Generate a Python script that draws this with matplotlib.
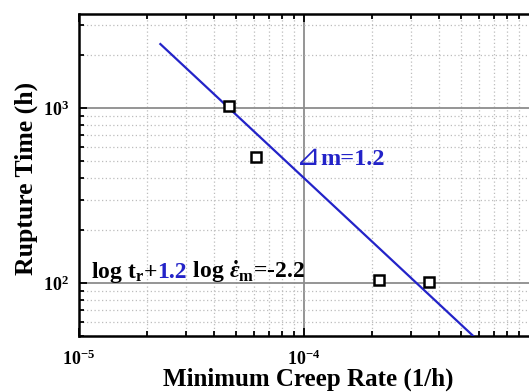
import matplotlib
matplotlib.use("Agg")
import matplotlib.pyplot as plt
import matplotlib.transforms as mtransforms
import numpy as np

# measured creep data: minimum creep rate (1/h) and rupture time (h)
creep_rate = [4.65e-5, 6.1e-5, 2.15e-4, 3.6e-4]
rupture_time = [1030, 522, 104, 101]

# Monkman-Grant fit: log t_r + m log e_m = C
m_exp = 1.2
c_const = -2.2
fit_rate = [2.3e-5, 6.0e-4]

x_ticks = [1e-5, 1e-4]
x_ticklabels = [r"$\mathbf{10^{-5}}$", r"$\mathbf{10^{-4}}$"]
y_ticks = [1e2, 1e3]
y_ticklabels = [r"$\mathbf{10^{2}}$", r"$\mathbf{10^{3}}$"]

plt.rcParams['font.family'] = ['Liberation Serif', 'DejaVu Sans']
plt.rcParams['font.weight'] = 'bold'
plt.rcParams['mathtext.fontset'] = 'custom'
plt.rcParams['mathtext.rm'] = 'Liberation Serif:bold'
plt.rcParams['mathtext.it'] = 'Liberation Serif:italic:bold'
plt.rcParams['mathtext.bf'] = 'Liberation Serif:bold'

blue = '#2323c8'

fig = plt.figure(figsize=(5.29, 3.92), dpi=100)
ax = fig.add_axes([0.1493, 0.1436, 0.8507, 0.8207])
ax.set_xscale('log')
ax.set_yscale('log')
ax.set_xlim(1e-5, 1e-3)
ax.set_ylim(50, 3450)

ax.grid(True, which='major', color='#8c8c8c', lw=1.3, ls='-')
ax.grid(True, which='minor', color='#bdbdbd', lw=0.9, ls=(0, (1, 2)))
ax.set_axisbelow(True)

# fitted line from the equation
xf = np.array(fit_rate)
yf = 10 ** (c_const - m_exp * np.log10(xf))
ax.plot(xf, yf, color=blue, lw=1.6, zorder=3)

ax.plot(creep_rate, rupture_time, ls='none', marker='s', ms=7,
        mfc='white', mec='black', mew=1.8, zorder=4)

for side in ['left', 'bottom', 'top']:
    ax.spines[side].set_linewidth(1.8)
ax.spines['right'].set_visible(False)
ax.tick_params(which='both', direction='in', top=True, right=False, width=1.3)
ax.tick_params(which='major', length=6)
ax.tick_params(which='minor', length=3.5)
ax.tick_params(axis='x', which='major', pad=10)
ax.tick_params(axis='y', which='major', pad=7)

ax.set_xticks(x_ticks)
ax.set_xticklabels(x_ticklabels, fontsize=13)
ax.set_yticks(y_ticks)
ax.set_yticklabels(y_ticklabels, fontsize=13)

ax.set_xlabel('Minimum Creep Rate (1/h)', fontsize=18, fontweight='bold')
ax.xaxis.set_label_coords(0.51, -0.135)
ax.xaxis.label.set_va('center')
ax.set_ylabel('Rupture Time (h)', fontsize=18.5, fontweight='bold')
ax.yaxis.set_label_coords(-0.116, 0.49)
ax.yaxis.label.set_va('center')

# slope annotation
ax.text(9.2e-5, 474, '\u22bf', color=blue, fontsize=21, fontweight='normal',
        family=['DejaVu Sans'], va='baseline', ha='left')
ax.text(1.18e-4, 474, 'm=1.2', color=blue, fontsize=17.5, fontweight='bold',
        va='baseline', ha='left')

# equation text, pieces laid end to end on one baseline, exponent in blue
pieces = [(r'log t$_\mathrm{r}$+', 'black'), ('1.2', blue),
          (r' log $\dot{\epsilon}_\mathrm{m}$=-2.2', 'black')]
renderer = fig.canvas.get_renderer()
tr = ax.transData
for s, col in pieces:
    t = ax.text(1.13e-5, 107, s, color=col, fontsize=17, fontweight='bold',
                va='baseline', ha='left', transform=tr)
    t.draw(renderer)
    ex = t.get_window_extent(renderer)
    tr = mtransforms.offset_copy(t.get_transform(), fig=fig, x=ex.width, units='dots')

fig.savefig('out.png', dpi=100)
